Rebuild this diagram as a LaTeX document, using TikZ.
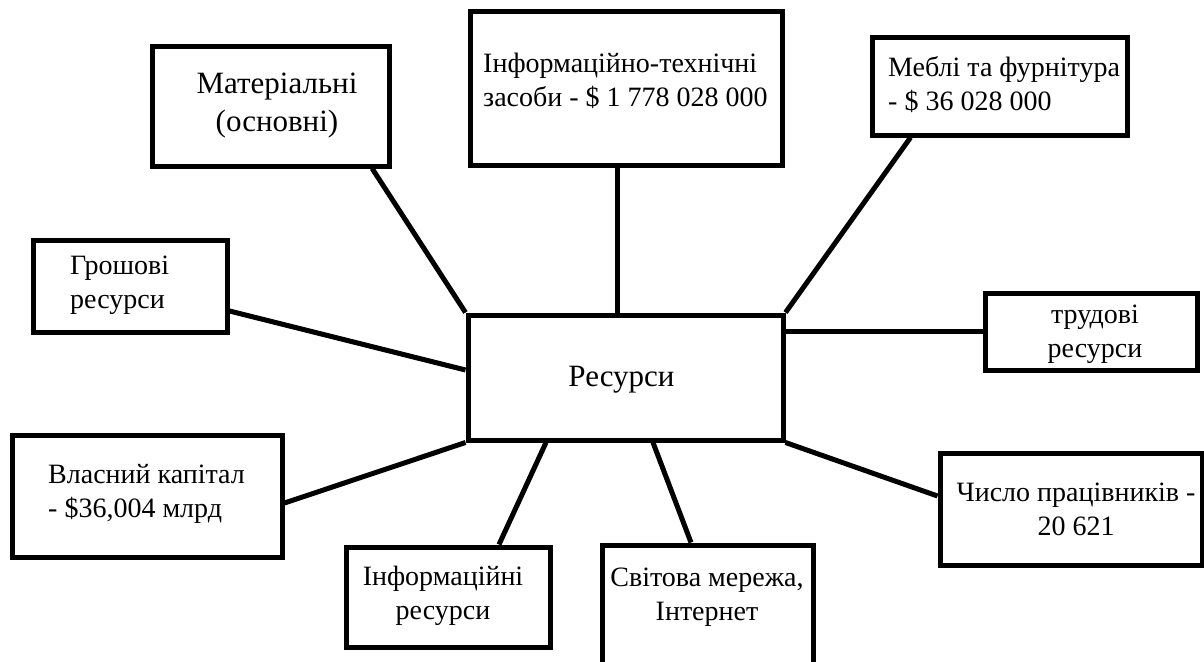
\documentclass[tikz,border=0pt]{standalone}
\usepackage{fontspec}
\setmainfont{Liberation Serif}
\usetikzlibrary{calc}
\begin{document}
\begin{tikzpicture}[x=1pt,y=-1pt,
  box/.style={draw,line width=5pt,inner sep=0pt},
  conn/.style={line width=5pt},
  txt/.style={inner sep=0pt,font=\fontsize{28}{34}\selectfont},
  bigtxt/.style={inner sep=0pt,font=\fontsize{31}{38}\selectfont}]
\useasboundingbox[fill=white] (0,0) rectangle (1204,661);
% boxes
\node[box,minimum width=237pt,minimum height=119pt] (mat) at (270.5,106.5) {};
\node[box,minimum width=312pt,minimum height=153pt] (it) at (626,88.5) {};
\node[box,minimum width=255pt,minimum height=97pt] (meb) at (999.5,86.5) {};
\node[box,minimum width=194pt,minimum height=92pt] (gro) at (130,286) {};
\node[box,minimum width=315pt,minimum height=125pt] (res) at (625.5,377.5) {};
\node[box,minimum width=212pt,minimum height=77pt] (tru) at (1091,331.5) {};
\node[box,minimum width=270pt,minimum height=122pt] (vla) at (147,496) {};
\node[box,minimum width=262pt,minimum height=112pt] (chy) at (1071,509) {};
\node[box,minimum width=204pt,minimum height=100pt] (inf) at (448,597) {};
\node[box,minimum width=211pt,minimum height=124pt] (svi) at (707.5,607) {};
% texts
\node[bigtxt,align=center] (matT) at (277,106) {Матеріальні\\(основні)};
\node[txt,align=left,anchor=west] (itT) at (483,80.5) {Інформаційно-технічні\\засоби - \$ 1 778 028 000};
\node[txt,align=left,anchor=west] (mebT) at (888,85) {Меблі та фурнітура\\- \$ 36 028 000};
\node[txt,align=left,anchor=west] (groT) at (70,285) {Грошові\\ресурси};
\node[bigtxt] (resT) at (621.5,380) {Ресурси};
\node[txt,align=center] (truT) at (1095,334.5) {трудові\\ресурси};
\node[txt,align=left,anchor=west] (vlaT) at (48,494) {Власний капітал\\- \$36,004 млрд};
\node[txt,align=center] (chyT) at (1076,509) {Число працівників -\\20 621};
\node[txt,align=center] (infT) at (443,596) {Інформаційні\\ресурси};
\node[txt,align=center] (sviT) at (707,597) {Світова мережа,\\Інтернет};
% connectors
\draw[conn] ($(mat.south west)!0.92!(mat.south east)$) -- (res.north west);
\draw[conn] ([xshift=-9pt]it.south) -- ([xshift=-8.5pt]res.north);
\draw[conn] ([xshift=41pt]meb.south west) -- (res.north east);
\draw[conn] ([yshift=-25pt]gro.east) -- ([yshift=7.5pt]res.west);
\draw[conn] (res.east |- tru.west) -- (tru.west);
\draw[conn] ([yshift=-7pt]vla.east) -- (res.south west);
\draw[conn] (res.south east) -- ([yshift=13pt]chy.west);
\draw[conn] ([xshift=51pt]inf.north) -- ([xshift=-79.5pt]res.south);
\draw[conn] ([xshift=-16.5pt]svi.north) -- ([xshift=27.5pt]res.south);
\end{tikzpicture}
\end{document}
